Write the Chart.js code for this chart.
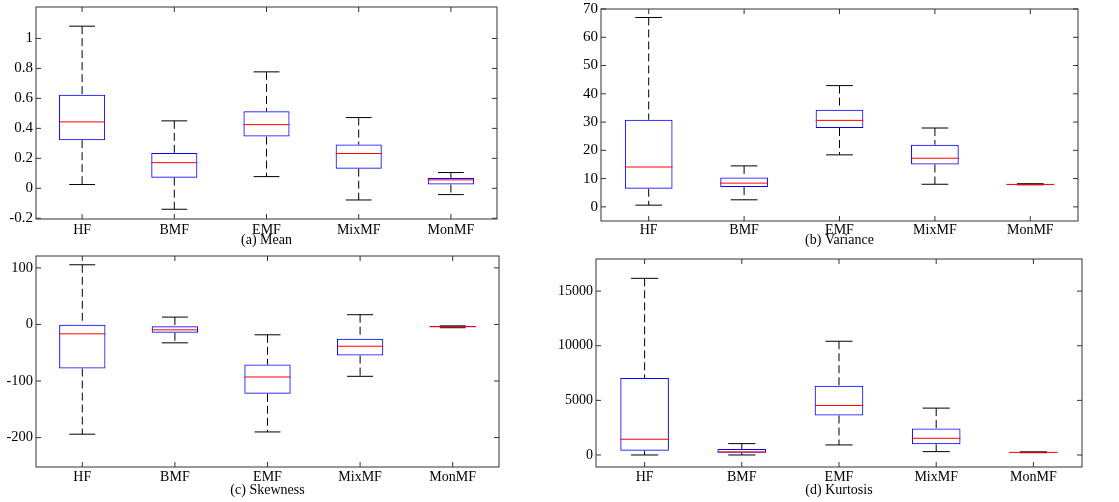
<!DOCTYPE html>
<html>
<head>
<meta charset="utf-8">
<script src="https://cdn.jsdelivr.net/npm/chart.js@4/dist/chart.umd.min.js"></script>
<style>
  html, body { margin: 0; padding: 0; background: #fff; }
  #wrap { position: relative; width: 1119px; height: 502px; overflow: hidden; }
  .panel { position: absolute; }
</style>
</head>
<body>
<div id="wrap">
  <div class="panel" style="left:0;top:0;width:520px;height:252px"><canvas id="chartMean"></canvas></div>
  <div class="panel" style="left:540px;top:0;width:579px;height:252px"><canvas id="chartVar"></canvas></div>
  <div class="panel" style="left:0;top:250px;width:520px;height:252px"><canvas id="chartSkew"></canvas></div>
  <div class="panel" style="left:540px;top:250px;width:579px;height:252px"><canvas id="chartKurt"></canvas></div>
</div>
<script>
const methods = ["HF", "BMF", "EMF", "MixMF", "MonMF"];

// box stats per method: lower whisker, q1, median, q3, upper whisker
const meanLow = [0.025, -0.14, 0.078, -0.078, -0.042];
const meanQ1 = [0.321, 0.071, 0.345, 0.131, 0.025];
const meanMed = [0.443, 0.171, 0.425, 0.232, 0.056];
const meanQ3 = [0.624, 0.236, 0.514, 0.292, 0.069];
const meanHigh = [1.082, 0.45, 0.777, 0.472, 0.105];
const meanTicks = [-0.2, 0, 0.2, 0.4, 0.6, 0.8, 1];

const varLow = [0.6, 2.5, 18.4, 8.0, 7.8];
const varQ1 = [6.4, 7.0, 27.9, 15.0, 7.85];
const varMed = [14.1, 8.4, 30.6, 17.2, 7.95];
const varQ3 = [30.8, 10.4, 34.4, 22.0, 8.05];
const varHigh = [67.0, 14.5, 42.9, 27.9, 8.2];
const varTicks = [0, 10, 20, 30, 40, 50, 60, 70];

const skewLow = [-194, -32.5, -190, -91.7, -5.8];
const skewQ1 = [-78, -14.8, -122.5, -55, -4.5];
const skewMed = [-16.6, -9.5, -92.9, -38.5, -4];
const skewQ3 = [-0.6, -3, -71, -25.4, -2.8];
const skewHigh = [105.5, 13, -18.3, 17.2, -2.5];
const skewTicks = [-200, -100, 0, 100];

const kurtLow = [0, 0, 920, 306, 210];
const kurtQ1 = [398, 214, 3613, 980, 230];
const kurtMed = [1440, 276, 4530, 1530, 240];
const kurtQ3 = [7040, 551, 6340, 2420, 260];
const kurtHigh = [16170, 1040, 10410, 4290, 290];
const kurtTicks = [0, 5000, 10000, 15000];

const serif = "'Liberation Serif', 'Times New Roman', serif";

// whiskers, caps, medians, frame and inward tick marks
const boxExtras = {
  id: "boxExtras",
  afterDatasetsDraw(chart, args, opts) {
    const { ctx, chartArea: a } = chart;
    const xs = chart.scales.x;
    const ys = chart.scales.y;
    const meta = chart.getDatasetMeta(0);
    const slot = xs.getPixelForValue(1) - xs.getPixelForValue(0);
    const capHalf = slot * 0.14;
    ctx.save();
    opts.med.forEach((m, i) => {
      const x = xs.getPixelForValue(i);
      const bar = meta.data[i];
      const half = bar.width / 2;
      const yLo = ys.getPixelForValue(opts.low[i]);
      const yQ1 = ys.getPixelForValue(opts.q1[i]);
      const yQ3 = ys.getPixelForValue(opts.q3[i]);
      const yHi = ys.getPixelForValue(opts.high[i]);
      // dashed whiskers
      ctx.strokeStyle = "#000";
      ctx.lineWidth = 1;
      ctx.setLineDash([8, 4]);
      ctx.beginPath();
      ctx.moveTo(x, yHi);
      ctx.lineTo(x, yQ3);
      ctx.moveTo(x, yQ1);
      ctx.lineTo(x, yLo);
      ctx.stroke();
      ctx.setLineDash([]);
      // caps
      ctx.beginPath();
      ctx.moveTo(x - capHalf, yHi);
      ctx.lineTo(x + capHalf, yHi);
      ctx.moveTo(x - capHalf, yLo);
      ctx.lineTo(x + capHalf, yLo);
      ctx.stroke();
      // median
      const yM = ys.getPixelForValue(m);
      ctx.strokeStyle = "#ff0000";
      ctx.beginPath();
      ctx.moveTo(x - half, yM);
      ctx.lineTo(x + half, yM);
      ctx.stroke();
    });
    // frame
    ctx.strokeStyle = "#333";
    ctx.lineWidth = 1;
    ctx.strokeRect(a.left, a.top, a.right - a.left, a.bottom - a.top);
    // inward ticks
    ctx.beginPath();
    ys.ticks.forEach((t) => {
      const y = ys.getPixelForValue(t.value);
      ctx.moveTo(a.left, y);
      ctx.lineTo(a.left + 5, y);
      ctx.moveTo(a.right, y);
      ctx.lineTo(a.right - 5, y);
    });
    xs.ticks.forEach((t, i) => {
      const x = xs.getPixelForValue(i);
      ctx.moveTo(x, a.top);
      ctx.lineTo(x, a.top + 5);
      ctx.moveTo(x, a.bottom);
      ctx.lineTo(x, a.bottom - 5);
    });
    ctx.stroke();
    ctx.restore();
  },
};

function makeBoxChart(id, cfg) {
  const boxes = cfg.q1.map((v, i) => [v, cfg.q3[i]]);
  return new Chart(document.getElementById(id), {
    type: "bar",
    data: {
      labels: methods,
      datasets: [
        {
          data: boxes,
          backgroundColor: "rgba(0,0,0,0)",
          borderColor: "#0000ff",
          borderWidth: 1,
          borderSkipped: false,
          barPercentage: 0.5,
          categoryPercentage: 1,
        },
      ],
    },
    options: {
      responsive: true,
      maintainAspectRatio: false,
      animation: false,
      layout: { padding: cfg.padding },
      plugins: {
        legend: { display: false },
        tooltip: { enabled: false },
        boxExtras: cfg,
      },
      scales: {
        x: {
          grid: { display: false, drawTicks: false },
          border: { display: false },
          ticks: { color: "#000", padding: cfg.xPad, font: { family: serif, size: 14 } },
          title: {
            display: true,
            text: cfg.title,
            color: "#000",
            padding: { top: 0, bottom: 3 },
            font: { family: serif, size: 14 },
          },
          afterFit: (s) => {
            s.height = cfg.xHeight;
            s.paddingLeft = 0;
            s.paddingRight = 0;
          },
        },
        y: {
          min: cfg.min,
          max: cfg.max,
          grid: { display: false, drawTicks: false },
          border: { display: false },
          afterBuildTicks: (s) => { s.ticks = cfg.ticks.map((v) => ({ value: v })); },
          ticks: {
            color: "#000",
            padding: 3,
            font: { family: serif, size: cfg.yFont },
            callback: (v) => String(v),
          },
          afterFit: (s) => {
            s.width = cfg.yWidth;
            s.paddingTop = 0;
            s.paddingBottom = 0;
          },
        },
      },
    },
    plugins: [boxExtras],
  });
}

makeBoxChart("chartMean", {
  low: meanLow, q1: meanQ1, med: meanMed, q3: meanQ3, high: meanHigh,
  ticks: meanTicks, min: -0.205, max: 1.21, title: "(a) Mean", yFont: 15,
  yWidth: 36, xHeight: 33, xPad: 3, padding: { top: 7, right: 23, bottom: 0, left: 0 },
});

makeBoxChart("chartVar", {
  low: varLow, q1: varQ1, med: varMed, q3: varQ3, high: varHigh,
  ticks: varTicks, min: -5, max: 70, title: "(b) Variance", yFont: 15,
  yWidth: 61, xHeight: 31, xPad: 1, padding: { top: 9, right: 41, bottom: 0, left: 0 },
});

makeBoxChart("chartSkew", {
  low: skewLow, q1: skewQ1, med: skewMed, q3: skewQ3, high: skewHigh,
  ticks: skewTicks, min: -252, max: 121, title: "(c) Skewness", yFont: 14.5,
  yWidth: 36, xHeight: 35, xPad: 2, padding: { top: 6, right: 21, bottom: 0, left: 0 },
});

makeBoxChart("chartKurt", {
  low: kurtLow, q1: kurtQ1, med: kurtMed, q3: kurtQ3, high: kurtHigh,
  ticks: kurtTicks, min: -1100, max: 17940, title: "(d) Kurtosis", yFont: 14,
  yWidth: 56, xHeight: 35, xPad: 2, padding: { top: 9, right: 37, bottom: 0, left: 0 },
});
</script>
</body>
</html>
